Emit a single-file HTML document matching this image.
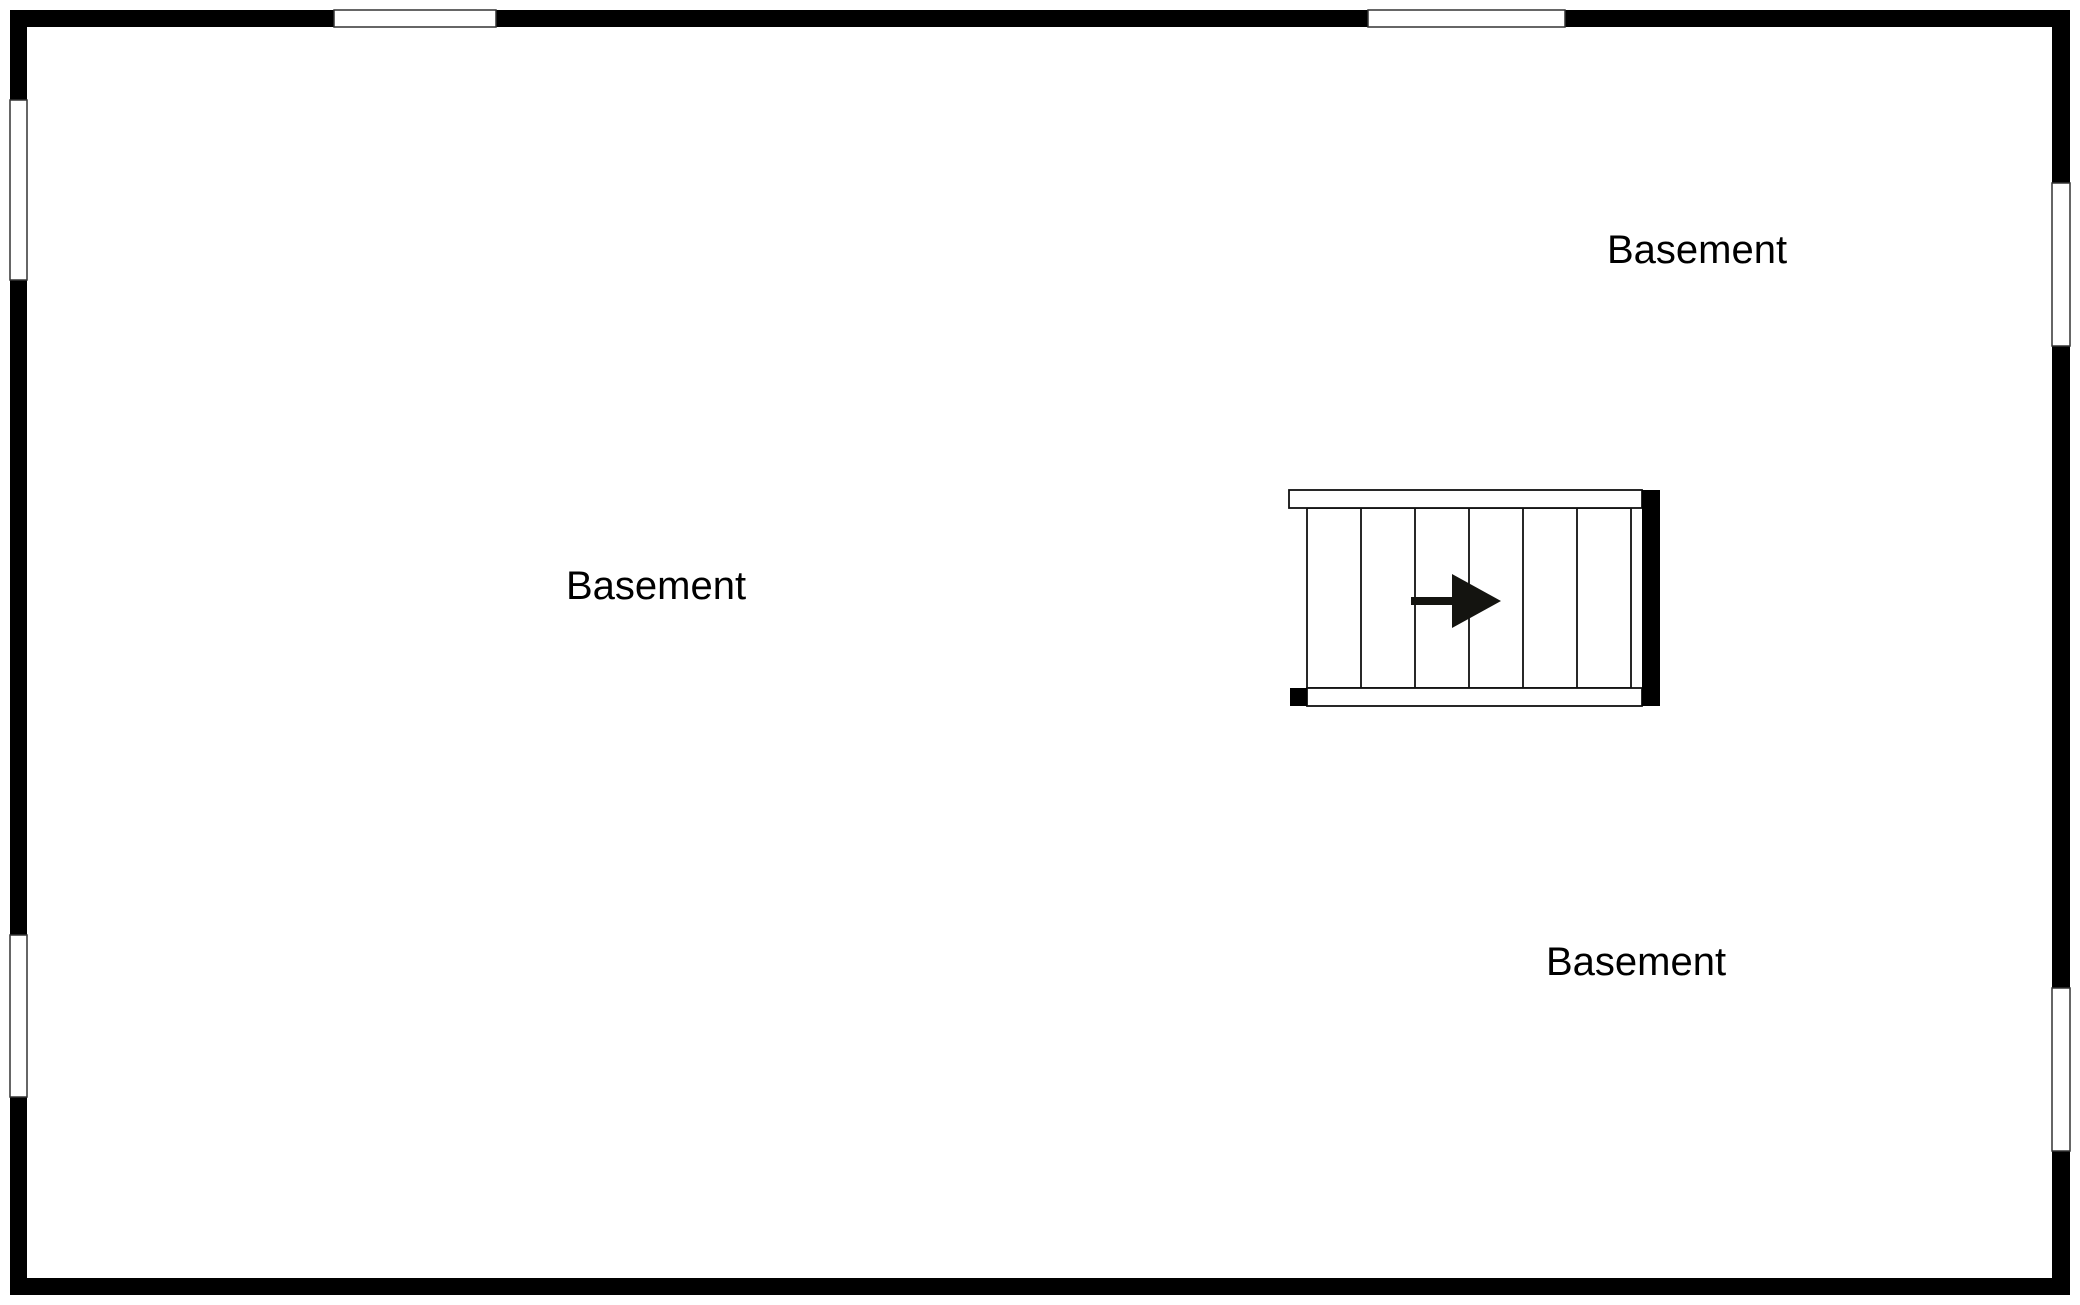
<!DOCTYPE html>
<html><head><meta charset="utf-8"><style>
html,body{margin:0;padding:0;background:#fff;width:2080px;height:1305px;overflow:hidden}
svg{display:block}
text{font-family:"Liberation Sans",sans-serif;font-size:40px;fill:#000}
</style></head><body>
<svg width="2080" height="1305" viewBox="0 0 2080 1305">
<rect x="10" y="10" width="2060" height="17" fill="#000"/>
<rect x="10" y="1278" width="2060" height="17" fill="#000"/>
<rect x="10" y="10" width="17" height="1285" fill="#000"/>
<rect x="2052" y="10" width="18" height="1285" fill="#000"/>
<g fill="#fff" stroke="#333" stroke-width="1.5">
<rect x="334" y="10" width="162" height="17"/>
<rect x="1368" y="10" width="197" height="17"/>
<rect x="10" y="100" width="17" height="180"/>
<rect x="10" y="935" width="17" height="162"/>
<rect x="2052" y="183" width="18" height="163"/>
<rect x="2052" y="988" width="18" height="163"/>
</g>
<g stroke="#111" stroke-width="1.8" fill="none">
<rect x="1307" y="508" width="324" height="180"/>
<line x1="1361" y1="508" x2="1361" y2="688"/>
<line x1="1415" y1="508" x2="1415" y2="688"/>
<line x1="1469" y1="508" x2="1469" y2="688"/>
<line x1="1523" y1="508" x2="1523" y2="688"/>
<line x1="1577" y1="508" x2="1577" y2="688"/>
<rect x="1289" y="490" width="353" height="18" fill="#fff"/>
<rect x="1307" y="688" width="335" height="18" fill="#fff"/>
</g>
<rect x="1642" y="490" width="18" height="216" fill="#000"/>
<rect x="1290" y="688" width="17" height="18" fill="#000"/>
<rect x="1411" y="597" width="44" height="8" fill="#141410"/>
<polygon points="1452,574 1501,601 1452,628" fill="#141410"/>
<text x="1607" y="263">Basement</text>
<text x="566" y="599">Basement</text>
<text x="1546" y="975">Basement</text>
</svg>
</body></html>
